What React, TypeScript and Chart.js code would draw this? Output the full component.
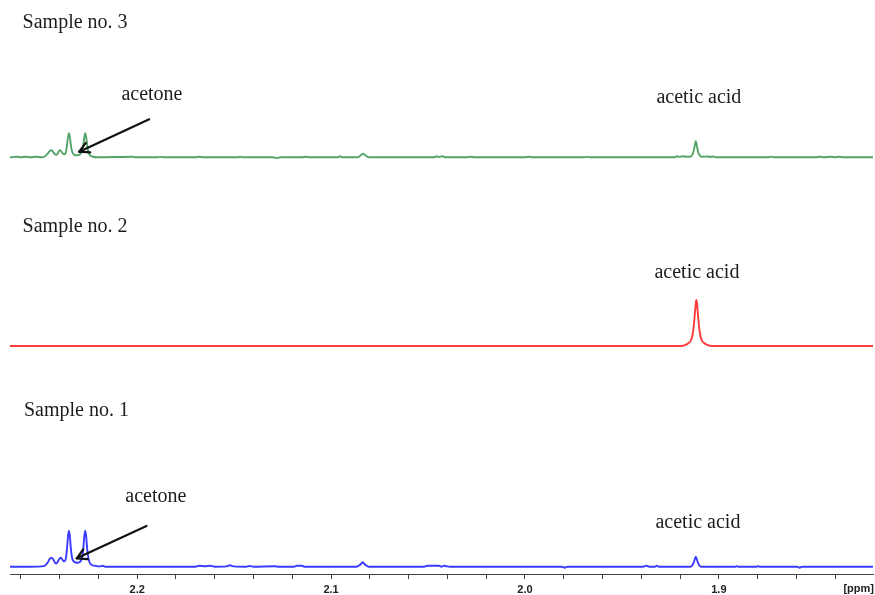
import React, { useEffect, useRef } from "react";
import { Chart, registerables } from "chart.js";

Chart.register(...registerables);

// ---------- data ----------
const SAMPLE_NAMES = ["Sample no. 1", "Sample no. 2", "Sample no. 3"];
const PEAK_NAMES = ["acetone", "acetic acid"];
const PPM_MIN = 1.8205;
const PPM_MAX = 2.2656;
const TICK_STEP = 0.02;
const MAJOR_TICK_LABELS = ["2.2", "2.1", "2.0", "1.9"];
const AXIS_UNIT = "[ppm]";

// [ppm, intensity]
const SAMPLE1: [number, number][] = [
  [2.2656, 0], [2.256, 0], [2.2495, 0.3], [2.2475, 1.2], [2.2462, 4], [2.2452, 7.5],
  [2.2441, 9], [2.2432, 7], [2.2424, 4], [2.2418, 3.2], [2.2411, 4.5], [2.2403, 7.5],
  [2.2395, 9], [2.2387, 7.5], [2.238, 5.5], [2.2374, 5.5], [2.2368, 8], [2.2362, 18],
  [2.2357, 30], [2.2352, 36], [2.2347, 30], [2.2342, 18], [2.2336, 9], [2.2328, 5.5],
  [2.2318, 4.2], [2.2308, 4], [2.2298, 4.5], [2.229, 6], [2.2284, 9], [2.2278, 18],
  [2.2273, 30], [2.2268, 36], [2.2263, 30], [2.2258, 18], [2.2252, 9], [2.2245, 4],
  [2.2236, 2], [2.2222, 1], [2.2205, 0.5], [2.2192, 0.3], [2.2177, 1], [2.2165, 0],
  [2.17, 0], [2.1677, 1], [2.165, 0.5], [2.1625, 1], [2.16, 0],
  [2.154, 0.3], [2.1522, 1.5], [2.15, 0.3], [2.144, 0], [2.1419, 0.7], [2.14, 0],
  [2.129, 0.5], [2.127, 0], [2.119, 0], [2.1178, 1], [2.115, 1], [2.1141, 0.2], [2.113, 0],
  [2.0868, 0], [2.0853, 1.5], [2.0845, 3], [2.0837, 4.5], [2.0829, 3], [2.0821, 1.5], [2.0806, 0],
  [2.052, 0], [2.0501, 1], [2.0445, 1], [2.0431, 0], [2.0418, 1], [2.0404, 0.5], [2.039, 0],
  [1.981, 0], [1.9795, -1], [1.978, 0],
  [1.939, 0], [1.9374, 1], [1.936, 0], [1.933, 0], [1.932, 1], [1.931, 0],
  [1.9147, 0], [1.9138, 1], [1.9131, 3.5], [1.9125, 7], [1.9119, 10], [1.9113, 7],
  [1.9107, 3.5], [1.91, 1], [1.9091, 0],
  [1.8915, 0], [1.8909, 0.6], [1.89, 0], [1.8805, 0], [1.8798, 0.6], [1.879, 0],
  [1.8595, 0], [1.8584, -1], [1.857, 0], [1.8205, 0],
];

const SAMPLE2: [number, number][] = [
  [2.2656, 0], [1.9206, 0], [1.9186, 0.3], [1.9171, 1.2], [1.9156, 3], [1.9143, 6],
  [1.9134, 13], [1.9128, 23], [1.9123, 34], [1.9119, 43], [1.9116, 46], [1.9113, 43],
  [1.9109, 34], [1.9104, 23], [1.9098, 13], [1.9089, 6], [1.9076, 3], [1.9061, 1.2],
  [1.9046, 0.3], [1.9026, 0], [1.8205, 0],
];

const SAMPLE3: [number, number][] = [
  [2.2656, 0], [2.262, 0.5], [2.26, 0], [2.2575, 0.6], [2.255, 0], [2.252, 0.5], [2.249, 0],
  [2.2475, 1], [2.2462, 3.5], [2.2452, 6], [2.2441, 7], [2.2432, 5], [2.2424, 3],
  [2.2418, 2.5], [2.2411, 3.5], [2.2404, 6], [2.2398, 7], [2.239, 5.5], [2.2382, 3.5],
  [2.2374, 3], [2.2368, 5], [2.2362, 12], [2.2357, 20], [2.2352, 24], [2.2347, 20],
  [2.2342, 12], [2.2336, 6], [2.2328, 3], [2.2318, 2], [2.2308, 2], [2.2298, 2.5],
  [2.229, 4], [2.2284, 7], [2.2278, 12], [2.2273, 20], [2.2268, 24], [2.2263, 20],
  [2.2258, 12], [2.2251, 5], [2.2243, 2], [2.2232, 0.8], [2.22, 0],
  [2.2022, 0.5], [2.201, 0], [2.19, 0], [2.188, 0.4], [2.186, 0],
  [2.17, 0], [2.168, 0.6], [2.166, 0], [2.148, 0], [2.147, 0.5], [2.1455, 0],
  [2.13, 0], [2.128, -0.7], [2.126, 0], [2.115, 0], [2.113, 0.5], [2.111, 0],
  [2.0965, 0], [2.0955, 1], [2.0945, 0],
  [2.0866, 0], [2.0852, 1.2], [2.0844, 2.5], [2.0835, 3.5], [2.0826, 2.5], [2.0818, 1.2], [2.0804, 0],
  [2.047, 0], [2.0456, 1], [2.0445, 0.3], [2.0424, 1], [2.041, 0],
  [2.03, 0], [2.028, 0.5], [2.026, 0], [2.0, 0], [1.998, 0.5], [1.996, 0],
  [1.97, 0], [1.968, 0.4], [1.966, 0],
  [1.923, 0], [1.9215, 1], [1.92, 0.4], [1.919, 1], [1.9162, 0.5],
  [1.915, 0.5], [1.9141, 1.5], [1.9133, 4], [1.9127, 9], [1.9122, 14], [1.9119, 16],
  [1.9116, 14], [1.9111, 9], [1.9105, 4], [1.9097, 1.5], [1.9088, 0.5],
  [1.9056, 0.8], [1.9045, 0.3], [1.903, 0.8], [1.9015, 0],
  [1.874, 0], [1.873, 0.7], [1.8718, 0], [1.85, 0], [1.848, 0.5], [1.846, 0],
  [1.842, 0.6], [1.84, 0], [1.838, 0.5], [1.836, 0], [1.8205, 0],
];

// baseline of each stacked trace (vertical units of the hidden y scale)
const OFFSETS = [7.3, 228, 416.7];
const COLORS = ["#3b3bff", "#ff3b3b", "#55a56a"];

// ---------- annotations (layout) ----------
const TEXTS = [
  { text: SAMPLE_NAMES[2], ppm: 2.2591, y: 550.8, align: "left" },
  { text: SAMPLE_NAMES[1], ppm: 2.2591, y: 347.5, align: "left" },
  { text: SAMPLE_NAMES[0], ppm: 2.2584, y: 163.2, align: "left" },
  { text: PEAK_NAMES[0], ppm: 2.1924, y: 479.2, align: "center" },
  { text: PEAK_NAMES[1], ppm: 1.9103, y: 475.8, align: "center" },
  { text: PEAK_NAMES[1], ppm: 1.9113, y: 300.8, align: "center" },
  { text: PEAK_NAMES[0], ppm: 2.1904, y: 77.5, align: "center" },
  { text: PEAK_NAMES[1], ppm: 1.9108, y: 50.8, align: "center" },
];

const ARROWS = [
  { from: [2.1938, 454.7], to: [2.2299, 422.3] },
  { from: [2.1952, 48], to: [2.2312, 15.7] },
];

const AXIS_FONT = '"Liberation Sans", Arial, sans-serif';
const TICK_PAD = 4;
const TICK_LEN = 5;

const annotationPlugin = {
  id: "nmrAnnotations",
  afterDraw(chart: any) {
    const { ctx, scales } = chart;
    const x = scales.x;
    const y = scales.y;
    ctx.save();
    ctx.font = '20px "Liberation Serif", "Times New Roman", serif';
    ctx.fillStyle = "#1c1c1c";
    ctx.textBaseline = "middle";
    for (const t of TEXTS) {
      ctx.textAlign = t.align as CanvasTextAlign;
      ctx.fillText(t.text, x.getPixelForValue(t.ppm), y.getPixelForValue(t.y));
    }
    // axis unit, on the tick-label row at the right end of the axis
    ctx.font = `bold 11px ${AXIS_FONT}`;
    ctx.fillStyle = "#222";
    ctx.textAlign = "right";
    ctx.textBaseline = "top";
    ctx.fillText(AXIS_UNIT, x.right + 1, x.top + TICK_LEN + TICK_PAD);

    ctx.strokeStyle = "#111";
    ctx.lineWidth = 2.2;
    ctx.lineCap = "round";
    ctx.lineJoin = "round";
    for (const a of ARROWS) {
      const x1 = x.getPixelForValue(a.from[0]);
      const y1 = y.getPixelForValue(a.from[1]);
      const x2 = x.getPixelForValue(a.to[0]);
      const y2 = y.getPixelForValue(a.to[1]);
      ctx.beginPath();
      ctx.moveTo(x1, y1);
      ctx.lineTo(x2, y2);
      ctx.stroke();
      const ang = Math.atan2(y1 - y2, x1 - x2);
      const len = 11;
      const spread = 0.5;
      ctx.beginPath();
      ctx.moveTo(x2 + len * Math.cos(ang - spread), y2 + len * Math.sin(ang - spread));
      ctx.lineTo(x2, y2);
      ctx.lineTo(x2 + len * Math.cos(ang + spread), y2 + len * Math.sin(ang + spread));
      ctx.stroke();
    }
    ctx.restore();
  },
};

export default function App() {
  const ref = useRef<HTMLCanvasElement>(null);
  useEffect(() => {
    if (!ref.current) return;
    const series = [SAMPLE1, SAMPLE2, SAMPLE3];
    const chart = new Chart(ref.current, {
      type: "line",
      data: {
        datasets: series.map((s, i) => ({
          label: SAMPLE_NAMES[i],
          data: s.map(([p, v]) => ({ x: p, y: v + OFFSETS[i] })),
          borderColor: COLORS[i],
          borderWidth: 1.9,
          pointRadius: 0,
          cubicInterpolationMode: "monotone",
          fill: false,
        })),
      },
      options: {
        animation: false,
        responsive: false,
        maintainAspectRatio: false,
        layout: { padding: { left: 10, right: 2, top: 0, bottom: 0 } },
        plugins: { legend: { display: false }, tooltip: { enabled: false } },
        scales: {
          x: {
            type: "linear",
            reverse: true,
            min: PPM_MIN,
            max: PPM_MAX,
            border: { display: true, color: "#444", width: 1 },
            grid: {
              drawOnChartArea: false,
              drawTicks: true,
              tickLength: TICK_LEN,
              tickColor: "#444",
              tickWidth: 1,
            },
            ticks: {
              stepSize: TICK_STEP,
              includeBounds: false,
              autoSkip: false,
              maxRotation: 0,
              padding: TICK_PAD,
              color: "#222",
              font: { family: AXIS_FONT, size: 11, weight: "bold" },
              callback: (v: any) => {
                const n = Number(v);
                const lbl = n.toFixed(1);
                return Math.abs(n * 10 - Math.round(n * 10)) < 1e-6 && MAJOR_TICK_LABELS.includes(lbl) ? lbl : "";
              },
            },
            // empty title only used to tune the axis height
            title: {
              display: true,
              text: "",
              font: { family: AXIS_FONT, size: 11, weight: "bold" },
              padding: { top: -18.4, bottom: 0 },
            },
          },
          y: { display: false, min: 0, max: 574 },
        },
      },
      plugins: [annotationPlugin],
    } as any);
    return () => chart.destroy();
  }, []);
  return (
    <div style={{ position: "fixed", left: 0, top: 0, width: 875, height: 595, background: "#fff" }}>
      <canvas ref={ref} width={875} height={595} style={{ width: 875, height: 595 }} />
    </div>
  );
}
